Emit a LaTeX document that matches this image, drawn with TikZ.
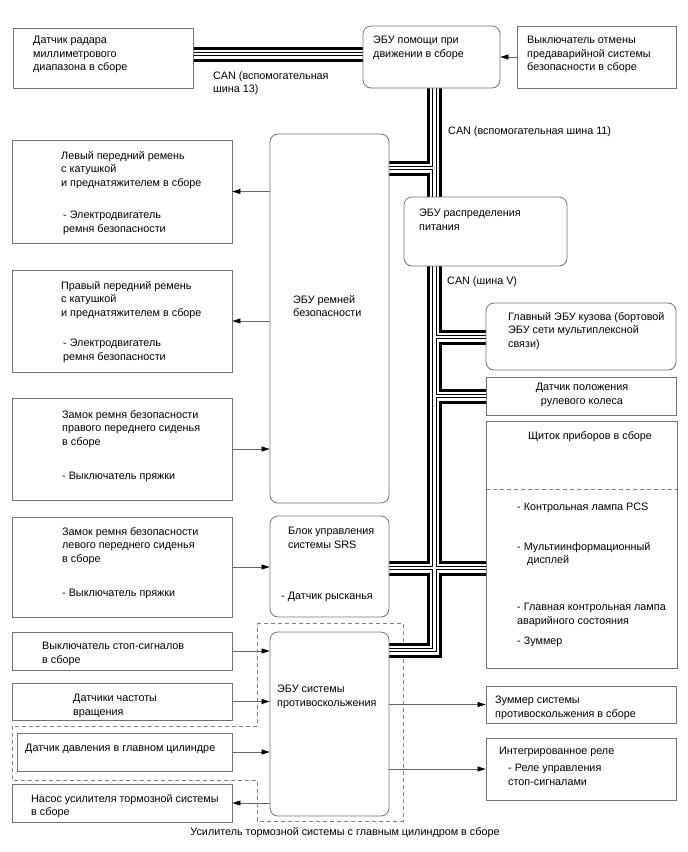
\documentclass[tikz,border=0pt]{standalone}
\usepackage{fontspec}
\setmainfont{Liberation Sans}
\usetikzlibrary{arrows.meta,positioning,calc,fit,backgrounds}

\newcommand\canbus{(radar.east |- jr) -- (jr -| das.west)
  (das.south -| jv) -- (jend) -- (jend -| skid.east)
  (jbelt) -- (jbelt -| belt.east)
  (jbody) -- (jbody -| body.west)
  (jsteer) -- (jsteer -| steer.west)
  (jsrs -| srs.east) -- (jsrs -| meter.west)}

\begin{document}
\begin{tikzpicture}[x=1pt,y=-1pt,
    box/.style={draw=black!55, fill=white, inner sep=0pt, line width=0.8pt},
    ecu/.style={box, rounded corners=8pt},
    txt/.style={anchor=north west, inner sep=0pt, align=left,
      font=\fontsize{10.8}{13.5}\selectfont},
    arr/.style={draw=black!60, line width=0.7pt,
      -{Triangle[length=8pt,width=5pt,color=black]}},
    grp/.style={draw=black!50, line width=0.7pt, dash pattern=on 4pt off 3pt}]
  \useasboundingbox (0,0) rectangle (688,852);
  % boxes
  \node[box, fit={(13,28) (193,88)}]   (radar) {};
  \node[ecu, fit={(363,26) (500,88)}]  (das) {};
  \node[box, fit={(517,26) (676,88)}]  (cancel) {};
  \node[ecu, fit={(270,134) (389,503)}] (belt) {};
  \node[ecu, fit={(404,197) (567,266)}] (power) {};
  \node[ecu, fit={(486,303) (676,370)}] (body) {};
  \node[box, fit={(486,377) (676,415)}] (steer) {};
  \node[box, fit={(486,421) (677,668)}] (meter) {};
  \node[box, fit={(12,140) (232,243)}] (lbelt) {};
  \node[box, fit={(12,270) (232,372)}] (rbelt) {};
  \node[box, fit={(12,398) (232,500)}] (rbuckle) {};
  \node[box, fit={(12,517) (232,617)}] (lbuckle) {};
  \node[ecu, fit={(270,516) (389,617)}] (srs) {};
  \node[box, fit={(12,632) (232,670)}] (stopsw) {};
  \node[box, fit={(12,683) (232,720)}] (speed) {};
  \node[box, fit={(17,733) (232,771)}] (mcyl) {};
  \node[box, fit={(12,784) (232,822)}] (pump) {};
  \node[ecu, fit={(270,632) (389,816)}] (skid) {};
  \node[box, fit={(486,686) (676,723)}] (buzzer) {};
  \node[box, fit={(486,738) (676,800)}] (relay) {};
  \draw[grp] (meter.west |- 0,489) -- (meter.east |- 0,489);
  % CAN lines
  \coordinate (jr) at (0,54);
  \coordinate (jv) at (434.5,0);
  \coordinate (jbelt) at (434.5,168);
  \coordinate (jbody) at (434.5,337);
  \coordinate (jsteer) at (434.5,396);
  \coordinate (jsrs) at (434.5,568);
  \coordinate (jend) at (434.5,650);
  \begin{scope}[on background layer]
    \draw[grp] (257,623) -- (403,623) -- (403,821) -- (257,821) -- (257,780)
      -- (12,780) -- (12,726) -- (257,726) -- cycle;
    \foreach \w/\c in {15/black, 9/white, 4.4/black, 2.2/white}
      \draw[line width=\w pt, \c, line join=miter] \canbus;
  \end{scope}
  % arrows
  \draw[arr] (cancel.west) -- (cancel -| das.east);
  \draw[arr] (lbelt -| belt.west) -- (lbelt.east);
  \draw[arr] (rbelt -| belt.west) -- (rbelt.east);
  \draw[arr] (rbuckle.east) -- (rbuckle -| belt.west);
  \draw[arr] (lbuckle.east) -- (lbuckle -| srs.west);
  \draw[arr] (stopsw.east) -- (stopsw -| skid.west);
  \draw[arr] (speed.east) -- (speed -| skid.west);
  \draw[arr] (mcyl.east) -- (mcyl -| skid.west);
  \draw[arr] (pump -| skid.west) -- (pump.east);
  \draw[arr] (buzzer -| skid.east) -- (buzzer.west);
  \draw[arr] (relay -| skid.east) -- (relay.west);
  % texts
  \node[txt] (t-radar) at (33,36) {Датчик радара\\миллиметрового\\диапазона в сборе};
  \node[txt] (t-das) at (373,36) {ЭБУ помощи при\\движении в сборе};
  \node[txt] (t-cancel) at (527,36) {Выключатель отмены\\предаварийной системы\\безопасности в сборе};
  \node[txt] (t-can13) at (213,71) {CAN (вспомогательная\\шина 13)};
  \node[txt] (t-can11) at (448,126) {CAN (вспомогательная шина 11)};
  \node[txt] (t-lbelt) at (61,151) {Левый передний ремень\\с катушкой\\и преднатяжителем в сборе};
  \node[txt] (t-lbelt2) at (63,211) {- Электродвигатель\\ремня безопасности};
  \node[txt] (t-belt) at (293,295) {ЭБУ ремней\\безопасности};
  \node[txt] (t-power) at (419,209) {ЭБУ распределения\\питания};
  \node[txt] (t-canv) at (447,276) {CAN (шина V)};
  \node[txt] (t-rbelt) at (61,281) {Правый передний ремень\\с катушкой\\и преднатяжителем в сборе};
  \node[txt] (t-rbelt2) at (63,339) {- Электродвигатель\\ремня безопасности};
  \node[txt] (t-body) at (508,312) {Главный ЭБУ кузова (бортовой\\ЭБУ сети мультиплексной\\связи)};
  \node[txt, anchor=north, align=center] (t-steer) at (582,383) {Датчик положения\\рулевого колеса};
  \node[txt] (t-rbuckle) at (62,410) {Замок ремня безопасности\\правого переднего сиденья\\в сборе};
  \node[txt] (t-rbuckle2) at (62,472) {- Выключатель пряжки};
  \node[txt] (t-lbuckle) at (62,527) {Замок ремня безопасности\\левого переднего сиденья\\в сборе};
  \node[txt] (t-lbuckle2) at (62,589) {- Выключатель пряжки};
  \node[txt] (t-srs) at (288,527) {Блок управления\\системы SRS};
  \node[txt] (t-srs2) at (281,592) {- Датчик рысканья};
  \node[txt, anchor=north] (t-meter) at (590,431) {Щиток приборов в сборе};
  \node[txt] (t-pcs) at (517,503) {- Контрольная лампа PCS};
  \node[txt] (t-mid) at (517,542) {- Мультиинформационный\\\hspace*{10pt}дисплей};
  \node[txt] (t-warn) at (517,603) {- Главная контрольная лампа\\аварийного состояния};
  \node[txt] (t-buzz) at (517,637) {- Зуммер};
  \node[txt] (t-stopsw) at (42,642) {Выключатель стоп-сигналов\\в сборе};
  \node[txt] (t-speed) at (73,694) {Датчики частоты\\вращения};
  \node[txt] (t-skid) at (277,685) {ЭБУ системы\\противоскольжения};
  \node[txt] (t-mcyl) at (25,744) {Датчик давления в главном цилиндре};
  \node[txt] (t-pump) at (31,794) {Насос усилителя тормозной системы\\в сборе};
  \node[txt] (t-buzzer) at (495,696) {Зуммер системы\\противоскольжения в сборе};
  \node[txt] (t-relay) at (499,747) {Интегрированное реле};
  \node[txt] (t-relay2) at (508,764) {- Реле управления\\стоп-сигналами};
  \node[txt, anchor=north] (t-booster) at (345,827) {Усилитель тормозной системы с главным цилиндром в сборе};
\end{tikzpicture}
\end{document}
